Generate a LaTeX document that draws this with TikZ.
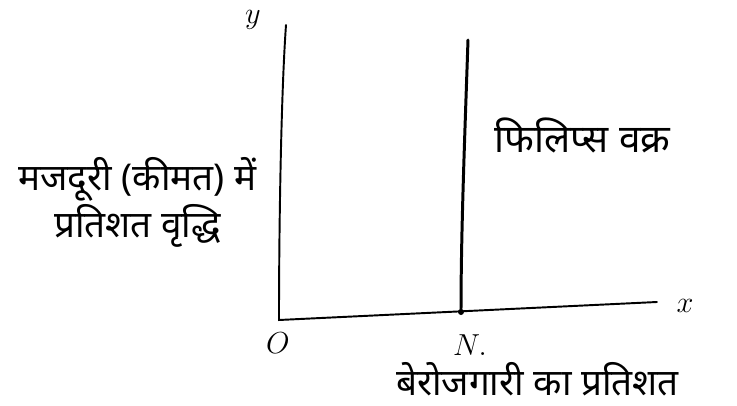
\documentclass[tikz,border=0pt]{standalone}
\usepackage{fontspec}
\newfontfamily\hindi[Script=Devanagari]{Noto Sans}
\usetikzlibrary{positioning}
\tikzset{
  truc/.style={line width=1.1pt, line cap=round},
  duong/.style={line width=1.7pt, line cap=round},
  nhan/.style={font=\fontsize{18}{20}\selectfont},
  chu/.style={font=\hindi, inner sep=0pt}
}
\begin{document}
\begin{tikzpicture}
  \useasboundingbox (0,0) rectangle (14.74,8.1);
  % goc toa do va hai dau truc
  \coordinate (O) at (5.58,1.70);
  \coordinate (yt) at (5.72,7.60);
  \coordinate (xt) at (13.14,2.06);
  \coordinate (N) at (9.22,1.86);
  \coordinate (Pt) at (9.36,7.30);
  % Ve hai truc
  \draw[truc] (yt) .. controls (5.62,6.2) and (5.58,3.5) .. (O) -- (xt);
  % duong Phillips
  \draw[duong] (Pt) .. controls (9.30,5.5) and (9.22,3.5) .. (N);
  \fill (N) circle (0.06);
  \node[nhan] (ly) at (5.06,7.70) {$y$};
  \node[nhan] (lx) at (13.70,1.98) {$x$};
  \node[nhan] (lO) at (5.56,1.24) {$O$};
  \node[nhan] (lN) at (9.40,1.20) {$N.$};
  \node[chu, font=\hindi\fontsize{22}{26}\selectfont] (phil) at (11.65,5.40) {फिलिप्स वक्र};
  \node[chu, align=center, font=\hindi\fontsize{21}{27}\selectfont] (wage) at (2.75,4.05) {मजदूरी (कीमत) में\\प्रतिशत वृद्धि};
  \node[chu, font=\hindi\fontsize{21}{24}\selectfont] (unemp) at (10.75,0.52) {बेरोजगारी का प्रतिशत};
\end{tikzpicture}
\end{document}
